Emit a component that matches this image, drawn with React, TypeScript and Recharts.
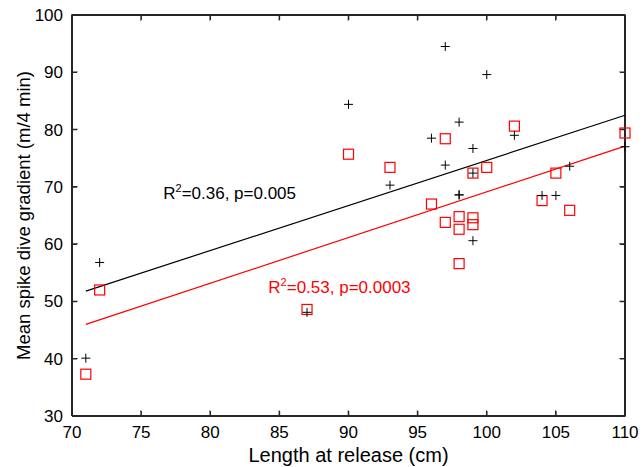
import { ComposedChart, Scatter, Line, XAxis, YAxis, Label, ReferenceLine } from 'recharts';

const FONT = '"Liberation Sans", Arial, Helvetica, sans-serif';
const INK = '#262626';

const xTicks = [70, 75, 80, 85, 90, 95, 100, 105, 110];
const yTicks = [30, 40, 50, 60, 70, 80, 90, 100];
const xRange = [70, 110];
const yRange = [30, 100];

// black "+" markers
const plusLength = [71, 72, 87, 90, 93, 96, 97, 97, 98, 98, 98, 99, 99, 99, 100, 102, 104, 105, 106, 110];
const plusGradient = [40.1, 56.8, 48.1, 84.4, 70.3, 78.5, 94.5, 73.8, 81.3, 68.6, 68.6, 76.7, 72.4, 60.6, 89.6, 79.0, 68.5, 68.5, 73.6, 77.0];

// red square markers
const squareLength = [71, 72, 87, 90, 93, 96, 97, 97, 98, 98, 98, 99, 99, 99, 100, 102, 104, 105, 106, 110];
const squareGradient = [37.3, 52.0, 48.6, 75.7, 73.4, 67.0, 78.4, 63.8, 64.8, 62.6, 56.6, 64.6, 63.4, 72.4, 73.4, 80.6, 67.6, 72.4, 65.9, 79.4];

// regression line end points
const fitLength = [71, 110];
const blackFit = [51.8, 82.5];
const redFit = [46.0, 77.1];

// annotation anchors (left edge, vertical middle)
const blackNote = { x: 76.6, y: 68.9, r2: '0.36', p: '0.005' };
const redNote = { x: 84.2, y: 52.6, r2: '0.53', p: '0.0003' };

const toPoints = (xs: number[], ys: number[]) => xs.map((x, i) => ({ x, y: ys[i] }));

const plusData = toPoints(plusLength, plusGradient);
const squareData = toPoints(squareLength, squareGradient);
const blackFitData = toPoints(fitLength, blackFit);
const redFitData = toPoints(fitLength, redFit);

// box around the plot and inward tick marks on all four sides
const frameData = [
  { x: xRange[0], y: yRange[0] },
  { x: xRange[1], y: yRange[0] },
  { x: xRange[1], y: yRange[1] },
  { x: xRange[0], y: yRange[1] },
  { x: xRange[0], y: yRange[0] },
];
const bottomTicks = xTicks.map((x) => ({ x, y: yRange[0] }));
const topTicks = xTicks.map((x) => ({ x, y: yRange[1] }));
const leftTicks = yTicks.map((y) => ({ x: xRange[0], y }));
const rightTicks = yTicks.map((y) => ({ x: xRange[1], y }));

const TICK = 5;
const tickMark = (dx: number, dy: number) => (p: any) => (
  <path
    d={`M${p.cx},${p.cy}l${dx},${dy}l${dy ? 0.01 : 0},${dx ? 0.01 : 0}`}
    stroke={INK}
    strokeWidth={1.6}
    fill="none"
  />
);

const PlusMark = (p: any) => (
  <path
    d={`M${p.cx - 4.5},${p.cy}h9M${p.cx},${p.cy - 4.5}v9`}
    stroke="#000"
    strokeWidth={1}
    fill="none"
  />
);

const SquareMark = (p: any) => (
  <rect x={p.cx - 5} y={p.cy - 5} width={10} height={10} stroke="#ff0000" strokeWidth={1.2} fill="none" />
);

const noteShape = (r2: string, pv: string, color: string) => (p: any) => (
  <text x={p.cx} y={p.cy + 6} fill={color} fontSize={17} fontFamily={FONT} textAnchor="start">
    R
    <tspan fontSize={11} dy={-7}>2</tspan>
    <tspan dy={7}>{`=${r2}, p=${pv}`}</tspan>
  </text>
);

const tickStyle = { fill: '#000', fontSize: 17, fontFamily: FONT };

export default function App() {
  return (
    <div style={{ position: 'absolute', left: 0, top: 0, background: '#fff' }}>
      <ComposedChart width={643} height={467} margin={{ top: 15, right: 18, bottom: 0, left: 0 }}>
        <XAxis
          dataKey="x"
          type="number"
          domain={xRange}
          ticks={xTicks}
          height={51}
          stroke={INK}
          strokeWidth={2}
          tickLine={false}
          tickMargin={4}
          tick={tickStyle}
        >
          <Label
            value="Length at release (cm)"
            position="insideBottom"
            offset={5}
            style={{ fill: '#000', fontSize: 20, fontFamily: FONT }}
          />
        </XAxis>
        <YAxis
          dataKey="y"
          type="number"
          domain={yRange}
          ticks={yTicks}
          width={72}
          axisLine={{ stroke: INK, strokeWidth: 2 }}
          tickLine={false}
          tickMargin={3}
          tick={tickStyle}
        >
          <Label
            value="Mean spike dive gradient (m/4 min)"
            angle={-90}
            position="insideLeft"
            offset={23}
            style={{ fill: '#000', fontSize: 18.5, fontFamily: FONT, textAnchor: 'middle' }}
          />
        </YAxis>
        <ReferenceLine y={yRange[1]} stroke={INK} strokeWidth={2} />
        <ReferenceLine x={xRange[1]} stroke={INK} strokeWidth={2} />
        <Line data={frameData} dataKey="y" stroke={INK} strokeWidth={1.6} dot={false} isAnimationActive={false} />
        <Scatter data={bottomTicks} shape={tickMark(0, -TICK)} isAnimationActive={false} />
        <Scatter data={topTicks} shape={tickMark(0, TICK)} isAnimationActive={false} />
        <Scatter data={leftTicks} shape={tickMark(TICK, 0)} isAnimationActive={false} />
        <Scatter data={rightTicks} shape={tickMark(-TICK, 0)} isAnimationActive={false} />
        <Line data={blackFitData} dataKey="y" stroke="#000" strokeWidth={1.2} dot={false} isAnimationActive={false} />
        <Line data={redFitData} dataKey="y" stroke="#ff0000" strokeWidth={1.2} dot={false} isAnimationActive={false} />
        <Scatter data={squareData} shape={SquareMark} isAnimationActive={false} />
        <Scatter data={plusData} shape={PlusMark} isAnimationActive={false} />
        <Scatter data={[blackNote]} shape={noteShape(blackNote.r2, blackNote.p, '#000')} isAnimationActive={false} />
        <Scatter data={[redNote]} shape={noteShape(redNote.r2, redNote.p, '#ff0000')} isAnimationActive={false} />
      </ComposedChart>
    </div>
  );
}
